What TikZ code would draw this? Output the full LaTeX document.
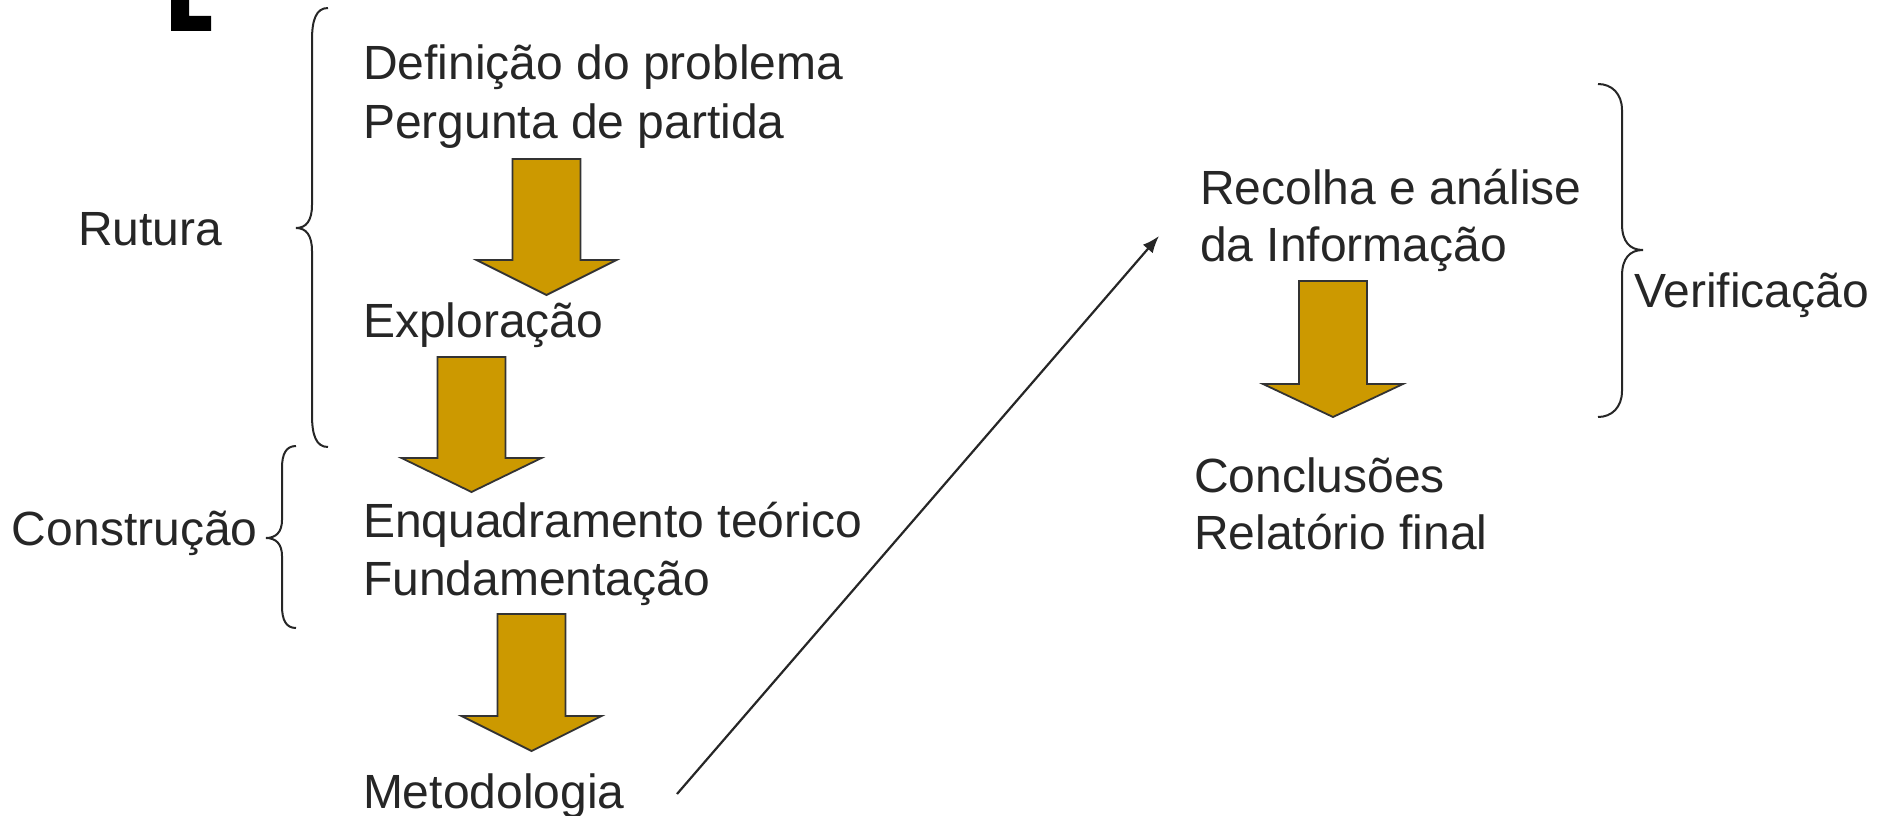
\documentclass[tikz,border=0pt]{standalone}
\usepackage{fontspec}
\setmainfont{Liberation Sans}
\usetikzlibrary{arrows.meta}
\definecolor{txt}{HTML}{262626}
\definecolor{gold}{HTML}{CC9900}
\definecolor{edge}{HTML}{333333}
\newcommand{\goldarrow}[4]{% center x, top, shoulder, tip
  \filldraw[goldarrowstyle] (#1-34,#2) -- (#1+34,#2) -- (#1+34,#3) -- (#1+70,#3) -- (#1,#4) -- (#1-70,#3) -- (#1-34,#3) -- cycle;}
\begin{document}
\begin{tikzpicture}[x=1pt,y=-1pt,
  lbl/.style={anchor=base west,inner sep=0pt,outer sep=0pt,text=txt,font=\fontsize{48}{57.6}\selectfont},
  bracestyle/.style={draw=txt,line width=2pt},
  goldarrowstyle/.style={fill=gold,draw=edge,line width=1.8pt,line join=miter},
  conn/.style={draw=txt,line width=2.2pt,-{Latex[length=17pt,width=13pt]}}]
\useasboundingbox (0,0) rectangle (1880,816);
% black corner mark
\fill[black] (171,0) -- (189,0) -- (189,16) -- (211,16) -- (211,31) -- (171,31) -- cycle;
% texts
\node[lbl] (def) at (363,80) {Definição do problema};
\node[lbl] (perg) at (363,138) {Pergunta de partida};
\node[lbl] (rut) at (78,245) {Rutura};
\node[lbl] (expl) at (363,337) {Exploração};
\node[lbl] (cons) at (12,545) {Construção};
\node[lbl] (enq) at (363,537) {Enquadramento teórico};
\node[lbl] (fund) at (363,595) {Fundamentação};
\node[lbl] (met) at (363,808) {Metodologia};
\node[lbl] (rec) at (1200,204) {Recolha e análise};
\node[lbl] (inf) at (1200,261) {da Informação};
\node[lbl] (ver) at (1634,307) {Verificação};
\node[lbl] (conc) at (1194,492) {Conclusões};
\node[lbl] (rel) at (1194,549) {Relatório final};
% block arrows
\goldarrow{546.5}{159}{260}{295}
\goldarrow{471.5}{357}{458}{492}
\goldarrow{531.5}{614}{716}{751}
\goldarrow{1333}{281}{384}{417}
% braces
\draw[bracestyle] (328,8) .. controls (316,8) and (312,20) .. (312,40) -- (312,205)
  .. controls (312,221) and (306,228) .. (296,228)
  .. controls (306,228) and (312,235) .. (312,251) -- (312,415)
  .. controls (312,435) and (316,447) .. (328,447);
\draw[bracestyle] (296,446) .. controls (286,446) and (282,454) .. (282,468) -- (282,520)
  .. controls (282,532) and (276,538) .. (266,538)
  .. controls (276,538) and (282,544) .. (282,556) -- (282,606)
  .. controls (282,620) and (286,628) .. (296,628);
\draw[bracestyle] (1598,84) .. controls (1612,84) and (1622,94) .. (1622,110) -- (1622,224)
  .. controls (1622,242) and (1630,250) .. (1643,250)
  .. controls (1630,250) and (1622,258) .. (1622,276) -- (1622,391)
  .. controls (1622,407) and (1612,417) .. (1598,417);
% connector
\coordinate (mstart) at (677,794);
\coordinate (rend) at (1159,236);
\draw[conn] (mstart) -- (rend);
\end{tikzpicture}
\end{document}
